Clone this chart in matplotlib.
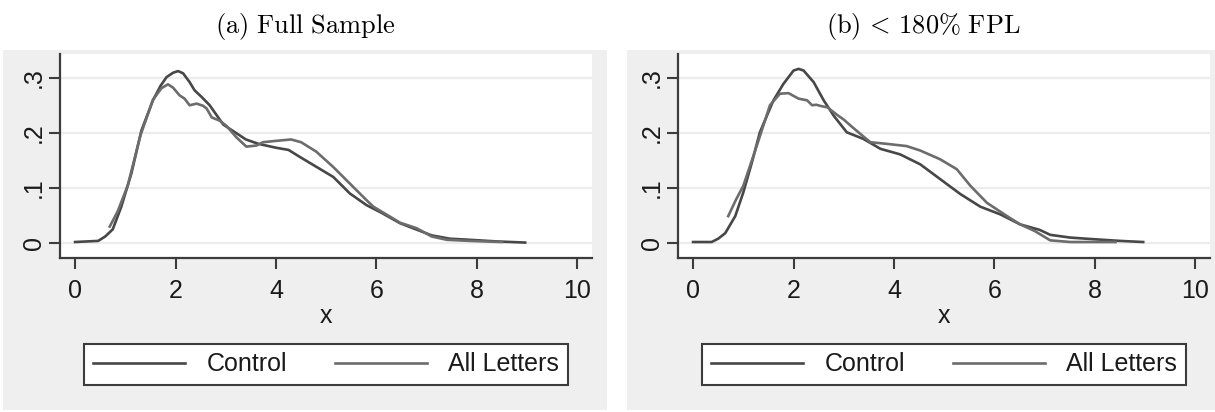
import matplotlib
matplotlib.use('Agg')
import matplotlib.pyplot as plt
from matplotlib.patches import Rectangle

plt.rcParams['font.family'] = ['Liberation Sans', 'DejaVu Sans']
plt.rcParams['mathtext.fontset'] = 'cm'

# kernel density estimates, read per group
full_ctrl_x = [0.0, 0.46, 0.60, 0.75, 0.92, 1.12, 1.32, 1.55, 1.70, 1.82, 1.95, 2.05, 2.15, 2.28,
               2.38, 2.52, 2.68, 2.78, 2.95, 3.15, 3.40, 3.65, 4.00, 4.25, 4.48, 4.81, 5.14, 5.47,
               5.80, 6.10, 6.47, 6.87, 7.10, 7.46, 7.86, 8.40, 8.96]
full_ctrl_y = [0.002, 0.004, 0.012, 0.025, 0.066, 0.126, 0.204, 0.259, 0.285, 0.301, 0.309, 0.312,
               0.308, 0.292, 0.277, 0.265, 0.250, 0.237, 0.215, 0.203, 0.188, 0.180, 0.173, 0.169,
               0.156, 0.138, 0.120, 0.090, 0.069, 0.055, 0.036, 0.022, 0.014, 0.008, 0.006, 0.003,
               0.001]
full_all_x = [0.69, 0.85, 1.05, 1.30, 1.55, 1.72, 1.85, 1.95, 2.08, 2.18, 2.28, 2.42, 2.55, 2.62,
              2.72, 2.88, 3.01, 3.21, 3.41, 3.61, 3.74, 3.95, 4.30, 4.50, 4.80, 5.14, 5.47, 5.80,
              5.94, 6.47, 6.80, 7.10, 7.40, 7.86, 8.50]
full_all_y = [0.030, 0.058, 0.105, 0.195, 0.260, 0.281, 0.288, 0.282, 0.268, 0.262, 0.250, 0.253,
              0.249, 0.244, 0.228, 0.222, 0.213, 0.192, 0.175, 0.177, 0.183, 0.185, 0.188, 0.183,
              0.166, 0.138, 0.108, 0.078, 0.066, 0.037, 0.027, 0.012, 0.006, 0.004, 0.002]

fpl_ctrl_x = [0.0, 0.37, 0.50, 0.64, 0.84, 1.00, 1.17, 1.33, 1.60, 1.80, 2.00, 2.10, 2.20, 2.40,
              2.60, 2.80, 3.06, 3.39, 3.73, 4.12, 4.52, 4.92, 5.32, 5.72, 6.12, 6.51, 6.90, 7.11,
              7.51, 7.99, 8.50, 8.96]
fpl_ctrl_y = [0.002, 0.002, 0.008, 0.018, 0.049, 0.092, 0.146, 0.201, 0.259, 0.289, 0.313, 0.316,
              0.313, 0.292, 0.259, 0.231, 0.201, 0.189, 0.171, 0.161, 0.143, 0.116, 0.089, 0.066,
              0.052, 0.034, 0.024, 0.015, 0.010, 0.007, 0.004, 0.002]
fpl_all_x = [0.70, 0.85, 1.00, 1.27, 1.53, 1.73, 1.90, 2.10, 2.27, 2.37, 2.45, 2.53, 2.68, 2.86,
             3.00, 3.15, 3.33, 3.53, 3.86, 4.25, 4.52, 4.92, 5.25, 5.52, 5.85, 6.25, 6.51, 6.80,
             7.11, 7.51, 8.00, 8.41]
fpl_all_y = [0.049, 0.078, 0.104, 0.177, 0.250, 0.271, 0.272, 0.262, 0.259, 0.250, 0.251, 0.249,
             0.246, 0.233, 0.224, 0.212, 0.198, 0.183, 0.180, 0.176, 0.168, 0.152, 0.134, 0.104,
             0.073, 0.049, 0.034, 0.022, 0.005, 0.002, 0.002, 0.002]

series_labels = ['Control', 'All Letters']
panel_titles = [r'$\mathrm{(a)\ Full\ Sample}$', r'$\mathrm{(b)}\,<\,\mathrm{180\%\ FPL}$']
x_ticks = [0, 2, 4, 6, 8, 10]
y_ticks = [0, 0.1, 0.2, 0.3]
y_tick_labels = ['0', '.1', '.2', '.3']

W, H = 1215, 412
BG = '#efefef'
AXC = '#3c3c3c'
TXT = '#1a1a1a'
LINE_COLORS = ['#474747', '#6c6c6c']
FS = 18


def px_box(x0, y0, x1, y1):
    """Pixel box (top-left origin) -> figure fraction [left, bottom, width, height]."""
    return [x0 / W, 1 - y1 / H, (x1 - x0) / W, (y1 - y0) / H]


def draw_panel(fig, bg_px, ax_px, leg_px, title_x, title, curves):
    bg = px_box(*bg_px)
    fig.add_artist(Rectangle(bg[:2], bg[2], bg[3], transform=fig.transFigure,
                             facecolor=BG, edgecolor='none', zorder=-10))
    ax = fig.add_axes(px_box(*ax_px))
    ax.set_facecolor('white')

    handles = []
    for (xs, ys), color in zip(curves, LINE_COLORS):
        h, = ax.plot(xs, ys, color=color, lw=1.9, solid_joinstyle='round')
        handles.append(h)

    ax.set_xlim(-0.31, 10.29)
    ax.set_ylim(-0.027, 0.343)
    ax.set_xticks(x_ticks)
    ax.set_yticks(y_ticks)
    ax.set_yticklabels(y_tick_labels)
    ax.yaxis.grid(True, color='#ececec', lw=1.6)
    ax.set_axisbelow(True)

    for side in ['top', 'right']:
        ax.spines[side].set_visible(False)
    for side in ['left', 'bottom']:
        ax.spines[side].set_color(AXC)
        ax.spines[side].set_linewidth(1.6)

    ax.tick_params(direction='out', length=8, width=1.5, color=AXC,
                   labelsize=FS, labelcolor=TXT)
    ax.tick_params(axis='y', labelrotation=90, pad=2)
    ax.tick_params(axis='x', pad=7)
    for lab in ax.get_yticklabels():
        lab.set_va('center')
    ax.set_xlabel('x', fontsize=FS, color=TXT, labelpad=1)

    leg = ax.legend(handles, series_labels, ncol=2, mode='expand', loc='lower left',
                    bbox_to_anchor=px_box(*leg_px), bbox_transform=fig.transFigure,
                    fontsize=FS, handlelength=3.7, handletextpad=0.85,
                    borderpad=0.35, borderaxespad=0, fancybox=False,
                    framealpha=1, edgecolor=AXC)
    leg.get_frame().set_linewidth(1.5)
    for t in leg.get_texts():
        t.set_color(TXT)

    fig.text(title_x / W, 1 - 26 / H, title, ha='center', va='center', fontsize=19)
    return ax


fig = plt.figure(figsize=(W / 100, H / 100), dpi=100)

draw_panel(fig, (3, 50, 607, 410), (59.5, 54, 592, 258), (84, 340, 568, 385), 305,
           panel_titles[0], [(full_ctrl_x, full_ctrl_y), (full_all_x, full_all_y)])
draw_panel(fig, (627, 50, 1215, 410), (677.5, 54, 1210, 258), (702, 340, 1186, 385), 923,
           panel_titles[1], [(fpl_ctrl_x, fpl_ctrl_y), (fpl_all_x, fpl_all_y)])

fig.savefig('out.png', dpi=100)
